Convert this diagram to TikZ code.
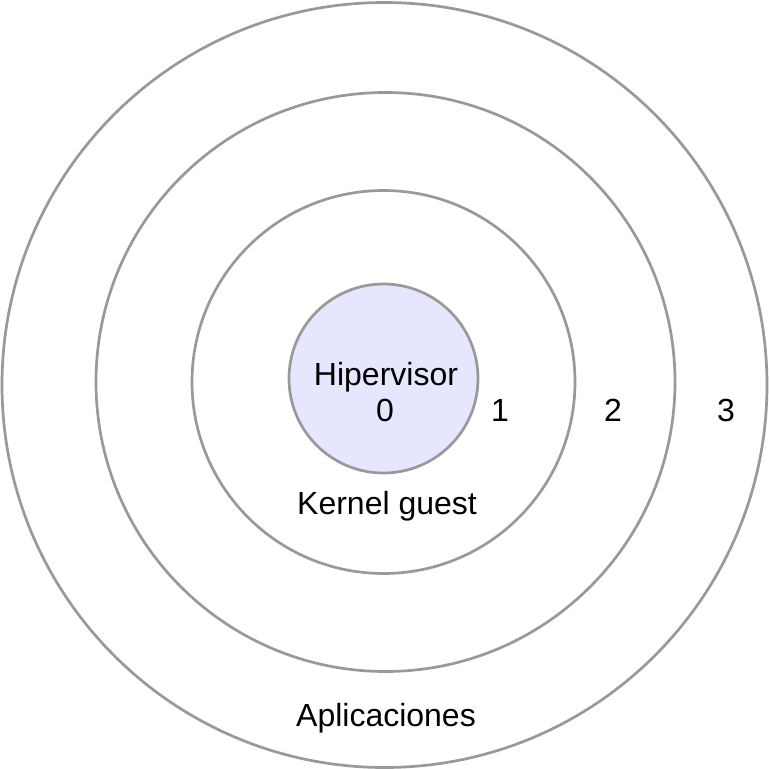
\documentclass[tikz,border=0pt]{standalone}
\usepackage{fontspec}
\setmainfont{Liberation Sans}
\usetikzlibrary{positioning}
\definecolor{cring}{HTML}{999999}
\definecolor{chyp}{HTML}{E6E6FF}

\begin{document}
\begin{tikzpicture}[
  x=1pt, y=-1pt,
  font=\fontsize{32}{36}\selectfont,
  ring/.style={circle, draw=cring, line width=2.7pt, inner sep=0pt},
  lbl/.style={inner sep=0pt, anchor=base},
  ]
\useasboundingbox (0,0) rectangle (769,769);

% rings, outermost first
\node[ring, minimum size=765pt] (r3) at (384.5,385) {};
\node[ring, minimum size=579pt] (r2) at (385.5,382) {};
\node[ring, minimum size=383pt] (r1) at (383.5,382) {};
\node[ring, fill=chyp, minimum size=189pt] (r0) at (383.5,378.5) {};

% labels
\node[lbl] (hyp) at (386,385) {Hipervisor};
\node[lbl] (n0) at (385,421) {0};
\node[lbl] (n1) at (500,421) {1};
\node[lbl] (n2) at (613,421) {2};
\node[lbl] (n3) at (726,421) {3};
\node[lbl] (kern) at (387,514) {Kernel guest};
\node[lbl] (apps) at (386,726) {Aplicaciones};
\end{tikzpicture}
\end{document}
